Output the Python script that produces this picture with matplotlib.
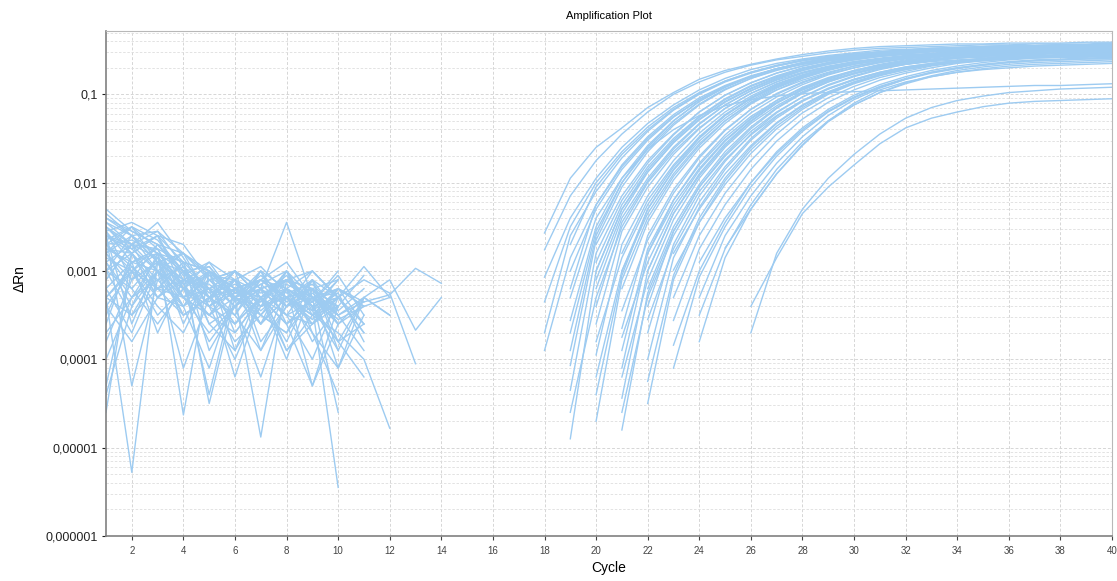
import numpy as np
import matplotlib
matplotlib.use("Agg")
import matplotlib.pyplot as plt
from matplotlib.ticker import LogLocator, NullFormatter

plt.rcParams['font.family'] = ['Liberation Sans', 'DejaVu Sans']

# baseline noise, log10(dRn), one list per well, starting at cycle 1
noise_curves = [
    [-2.6, -2.7, -2.75, -2.9, -3.0, -3.2, -3.1, -3.3, -3.2, -3.5],
    [-2.4, -2.6, -2.55, -2.8, -3.1, -3.0, -3.3, -3.05, -3.4, -3.3, -3.6],
    [-2.7, -2.5, -2.65, -3.0, -2.95, -3.3, -3.2, -3.1, -3.35, -3.0],
    [-2.3, -2.55, -2.7, -2.8, -3.05, -3.1, -2.95, -3.25, -3.15, -3.45, -3.2],
    [-4.6, -2.8, -2.6, -2.9, -3.2, -3.1, -3.4, -3.0, -3.3, -3.6],
    [-3.3, -5.28, -2.9, -3.1, -3.3, -3.0, -3.2, -3.5, -3.1, -3.3],
    [-3.4, -3.0, -2.8, -3.15, -3.5, -3.2, -3.1, -3.3, -3.55, -3.2, -3.4],
    [-2.5, -2.7, -2.45, -2.85, -3.3, -3.5, -3.1, -2.9, -3.3, -3.25],
    [-2.8, -3.1, -2.7, -3.0, -4.5, -3.3, -3.0, -3.2, -3.4, -3.1],
    [-2.55, -2.45, -2.6, -3.2, -3.0, -3.3, -4.88, -3.1, -3.2, -3.5, -3.3],
    [-3.0, -2.8, -3.2, -3.3, -3.1, -3.4, -3.2, -2.45, -3.3, -3.5],
    [-2.75, -2.9, -2.8, -4.63, -3.0, -3.2, -3.3, -3.1, -3.4, -5.45],
    [-2.45, -2.6, -2.9, -2.8, -3.0, -3.35, -3.15, -3.4, -3.3, -3.2, -3.35, -3.27, -2.97, -3.14],
    [-2.9, -3.3, -2.85, -3.1, -3.2, -3.6, -3.3, -3.2, -4.3, -3.6, -3.3, -3.1, -3.67, -3.3],
    [-3.1, -2.7, -3.0, -3.2, -2.9, -3.3, -3.5, -3.2, -3.0, -3.3, -3.1, -3.25, -4.05],
    [-3.3, -3.5, -3.0, -3.2, -3.4, -3.1, -3.6, -3.3, -3.5, -3.7, -4.0, -4.78],
    [-2.6, -2.8, -3.1, -2.95, -3.2, -4.2, -3.3, -3.1, -3.2, -3.4, -3.05],
    [-2.7, -2.65, -2.8, -3.0, -3.25, -3.15, -3.35, -3.0, -3.45, -3.25, -3.8],
    [-4.0, -3.3, -3.1, -2.95, -3.4, -3.2, -3.1, -3.35, -3.2, -4.1, -3.3],
    [-2.5, -2.75, -2.6, -2.7, -3.1, -3.0, -3.2, -3.4, -3.0, -3.3],
    [-2.8, -2.6, -3.0, -3.3, -3.0, -3.2, -3.45, -3.2, -3.35, -3.05, -3.5],
    [-3.2, -2.9, -2.75, -3.2, -3.35, -3.0, -3.3, -3.6, -3.3, -3.4],
    [-2.6, -3.6, -2.9, -3.0, -3.2, -3.3, -3.05, -3.3, -3.5, -3.2],
    [-2.4, -2.55, -2.7, -3.05, -2.9, -3.1, -3.25, -3.15, -3.3, -3.55, -3.4],
    [-2.9, -2.7, -2.55, -2.95, -3.4, -3.25, -3.1, -3.2, -3.4, -3.3, -2.95, -3.3],
    [-3.6, -2.8, -3.3, -3.4, -3.0, -3.2, -3.3, -3.8, -3.2, -3.6],
    [-2.75, -2.8, -2.6, -3.1, -3.15, -3.4, -3.2, -3.1, -3.0, -3.3, -3.7],
    [-2.55, -2.9, -3.0, -2.8, -3.3, -3.1, -3.4, -3.3, -3.6, -3.2],
    [-3.0, -3.2, -2.85, -3.3, -3.2, -3.5, -3.0, -3.4, -3.25, -3.5, -3.35],
    [-2.65, -2.5, -2.9, -3.15, -3.05, -3.3, -3.15, -3.0, -3.5, -3.4],
    [-3.3, -2.95, -3.2, -2.9, -3.6, -3.4, -3.1, -3.3, -3.1, -3.8, -4.2],
    [-2.85, -3.0, -2.7, -3.0, -3.3, -3.2, -3.6, -3.3, -3.2, -3.1],
    [-4.3, -3.0, -3.2, -3.1, -2.95, -3.3, -3.4, -3.2, -3.6, -3.3],
    [-2.35, -2.6, -2.8, -2.9, -3.0, -3.25, -3.35, -3.1, -3.3, -3.5],
    [-2.7, -2.95, -3.3, -3.1, -3.2, -3.0, -3.3, -3.5, -3.35, -3.2, -3.4, -3.3],
    [-3.1, -2.7, -2.85, -3.2, -3.5, -3.3, -3.1, -3.3, -3.45, -3.1],
    [-2.9, -3.4, -2.8, -3.6, -3.0, -3.9, -3.2, -3.5, -4.0, -3.3],
    [-3.5, -2.9, -3.7, -3.1, -4.4, -3.2, -3.6, -3.0, -3.7, -4.1, -3.5],
    [-2.6, -4.3, -3.1, -3.4, -3.0, -3.7, -3.3, -4.0, -3.2, -3.6],
    [-3.8, -3.1, -2.9, -3.5, -3.3, -3.0, -3.8, -3.4, -3.1, -3.9, -3.3, -3.5],
    [-2.7, -3.0, -3.5, -3.2, -3.8, -3.4, -3.0, -3.6, -4.3, -3.4],
    [-3.2, -3.7, -3.0, -4.1, -3.3, -3.5, -3.9, -3.2, -3.4, -3.8, -3.6],
    [-2.5, -2.8, -3.3, -3.0, -3.6, -3.9, -3.4, -3.3, -3.7, -4.4],
    [-3.0, -2.6, -2.9, -3.4, -4.1, -3.2, -3.5, -3.7, -3.1, -3.5, -3.9],
    [-4.4, -3.4, -3.0, -3.3, -3.5, -3.1, -3.9, -3.4, -3.2, -3.6],
    [-2.8, -3.2, -3.6, -3.2, -3.4, -4.0, -3.3, -3.6, -3.3, -4.6],
    [-2.6, -2.75, -3.0, -3.4, -3.2, -3.6, -3.3, -3.9, -3.5, -3.3, -3.7],
    [-3.3, -3.0, -3.4, -3.7, -3.1, -3.3, -3.6, -3.2, -3.8, -3.4],
    [-2.55, -3.1, -2.9, -3.3, -3.7, -3.4, -4.2, -3.3, -3.5, -3.2, -3.6],
    [-3.7, -3.3, -3.0, -3.5, -3.3, -3.8, -3.5, -3.1, -3.4, -3.9],
    [-2.45, -2.7, -3.2, -3.5, -3.3, -3.1, -3.5, -3.7, -3.3, -3.6, -3.4],
    [-3.0, -3.5, -3.2, -2.9, -3.9, -3.4, -3.2, -3.5, -3.6, -3.3],
    [-2.8, -2.5, -2.75, -3.3, -3.5, -3.7, -3.3, -3.6, -3.4, -3.8, -3.3, -3.5],
    [-3.4, -3.8, -3.3, -3.0, -3.4, -3.6, -3.2, -3.9, -3.6, -3.4],
]

# amplification curves: first cycle with a positive dRn, then log10(dRn) up to cycle 40
amp_start = [18, 18, 18, 18, 18, 19,
             19, 19, 19, 19, 19, 19, 19,
             20, 20, 20, 20, 20, 20, 20,
             21, 21, 21, 21, 21, 21, 21,
             22, 22, 22, 22, 22,
             23, 23, 23, 23,
             24, 24, 25, 26, 26,
             19, 19, 20, 20, 20, 20, 21, 21, 21, 21, 22, 22, 22, 22,
             23, 23, 24, 24, 19, 18, 20, 21]
amp_curves = [
    [-2.57, -1.95, -1.6, -1.38, -1.15, -0.98, -0.83, -0.73, -0.66, -0.6, -0.55, -0.51, -0.48, -0.46, -0.45, -0.44, -0.43, -0.43, -0.42, -0.42, -0.42, -0.41, -0.41],
    [-2.76, -2.15, -1.75, -1.45, -1.2, -1.0, -0.86, -0.75, -0.67, -0.61, -0.57, -0.53, -0.5, -0.48, -0.47, -0.46, -0.45, -0.44, -0.44, -0.43, -0.43, -0.43, -0.42],
    [-3.07, -2.4, -1.95, -1.6, -1.33, -1.12, -0.95, -0.82, -0.72, -0.65, -0.6, -0.56, -0.53, -0.5, -0.49, -0.48, -0.47, -0.46, -0.45, -0.45, -0.44, -0.44, -0.44],
    [-3.7, -2.6, -2.1, -1.72, -1.42, -1.18, -1.0, -0.86, -0.76, -0.68, -0.62, -0.58, -0.55, -0.53, -0.51, -0.5, -0.49, -0.48, -0.48, -0.47, -0.47, -0.46, -0.46],
    [-3.9, -2.85, -2.25, -1.82, -1.5, -1.25, -1.06, -0.91, -0.8, -0.71, -0.65, -0.6, -0.57, -0.54, -0.52, -0.51, -0.5, -0.49, -0.48, -0.48, -0.47, -0.47, -0.47],
    [-3.3, -2.4, -1.95, -1.62, -1.4, -1.24, -1.13, -1.06, -1.02, -0.99, -0.98, -0.97, -0.96, -0.95, -0.94, -0.93, -0.92, -0.91, -0.9, -0.9, -0.89, -0.88],
    [-4.9, -3.0, -2.3, -1.85, -1.52, -1.26, -1.06, -0.91, -0.8, -0.71, -0.64, -0.59, -0.55, -0.52, -0.5, -0.49, -0.48, -0.47, -0.46, -0.46, -0.45, -0.45],
    [-4.35, -2.8, -2.2, -1.78, -1.46, -1.2, -1.01, -0.87, -0.76, -0.68, -0.62, -0.57, -0.54, -0.51, -0.49, -0.48, -0.47, -0.46, -0.45, -0.45, -0.44, -0.44],
    [-4.07, -2.65, -2.05, -1.65, -1.35, -1.12, -0.95, -0.82, -0.72, -0.65, -0.6, -0.56, -0.53, -0.51, -0.49, -0.48, -0.47, -0.46, -0.46, -0.45, -0.45, -0.45],
    [-3.56, -2.5, -1.95, -1.58, -1.3, -1.08, -0.92, -0.8, -0.71, -0.64, -0.59, -0.55, -0.52, -0.5, -0.48, -0.47, -0.46, -0.45, -0.45, -0.44, -0.44, -0.43],
    [-3.2, -2.25, -1.8, -1.48, -1.23, -1.04, -0.9, -0.79, -0.71, -0.65, -0.6, -0.57, -0.54, -0.52, -0.51, -0.5, -0.49, -0.49, -0.48, -0.48, -0.48, -0.47],
    [-2.7, -2.05, -1.68, -1.4, -1.17, -0.99, -0.85, -0.75, -0.67, -0.61, -0.57, -0.54, -0.52, -0.5, -0.49, -0.48, -0.47, -0.47, -0.46, -0.46, -0.46, -0.45],
    [-4.6, -3.3, -2.5, -2.0, -1.65, -1.38, -1.16, -0.99, -0.86, -0.76, -0.69, -0.63, -0.59, -0.56, -0.54, -0.52, -0.51, -0.5, -0.49, -0.49, -0.48, -0.48],
    [-4.7, -3.1, -2.4, -1.93, -1.58, -1.3, -1.09, -0.93, -0.81, -0.72, -0.65, -0.6, -0.57, -0.54, -0.52, -0.51, -0.5, -0.49, -0.49, -0.48, -0.48],
    [-3.95, -2.7, -2.15, -1.75, -1.44, -1.2, -1.02, -0.88, -0.78, -0.7, -0.64, -0.6, -0.57, -0.55, -0.53, -0.52, -0.51, -0.5, -0.5, -0.49, -0.49],
    [-3.4, -2.45, -1.98, -1.62, -1.34, -1.12, -0.96, -0.83, -0.73, -0.66, -0.61, -0.57, -0.54, -0.52, -0.5, -0.49, -0.48, -0.47, -0.47, -0.46, -0.46],
    [-2.9, -2.25, -1.82, -1.5, -1.25, -1.05, -0.9, -0.79, -0.7, -0.64, -0.59, -0.55, -0.52, -0.5, -0.49, -0.48, -0.47, -0.46, -0.46, -0.45, -0.45],
    [-4.2, -3.0, -2.35, -1.9, -1.56, -1.3, -1.1, -0.95, -0.84, -0.75, -0.68, -0.63, -0.59, -0.56, -0.54, -0.53, -0.52, -0.51, -0.5, -0.5, -0.49],
    [-3.6, -2.55, -2.05, -1.68, -1.39, -1.16, -0.99, -0.86, -0.76, -0.69, -0.64, -0.6, -0.58, -0.56, -0.55, -0.54, -0.53, -0.53, -0.52, -0.52, -0.52],
    [-3.1, -2.35, -1.88, -1.54, -1.28, -1.08, -0.93, -0.81, -0.72, -0.65, -0.6, -0.56, -0.53, -0.51, -0.5, -0.49, -0.48, -0.47, -0.47, -0.46, -0.46],
    [-4.44, -3.0, -2.35, -1.9, -1.56, -1.3, -1.1, -0.95, -0.83, -0.74, -0.67, -0.62, -0.58, -0.55, -0.53, -0.51, -0.5, -0.49, -0.49, -0.48],
    [-4.1, -2.8, -2.2, -1.78, -1.46, -1.21, -1.03, -0.89, -0.78, -0.7, -0.64, -0.59, -0.56, -0.54, -0.52, -0.51, -0.5, -0.49, -0.49, -0.48],
    [-3.65, -2.6, -2.08, -1.7, -1.4, -1.17, -0.99, -0.86, -0.76, -0.68, -0.63, -0.59, -0.56, -0.54, -0.53, -0.52, -0.51, -0.51, -0.5, -0.5],
    [-3.2, -2.45, -1.97, -1.61, -1.33, -1.11, -0.95, -0.82, -0.73, -0.66, -0.61, -0.57, -0.54, -0.52, -0.5, -0.49, -0.48, -0.47, -0.47, -0.46],
    [-4.8, -3.25, -2.55, -2.05, -1.7, -1.42, -1.2, -1.03, -0.9, -0.8, -0.72, -0.66, -0.62, -0.59, -0.57, -0.55, -0.54, -0.53, -0.52, -0.52],
    [-3.0, -2.3, -1.86, -1.53, -1.27, -1.07, -0.92, -0.8, -0.71, -0.65, -0.6, -0.57, -0.54, -0.52, -0.51, -0.5, -0.49, -0.48, -0.48, -0.47],
    [-3.9, -2.75, -2.2, -1.8, -1.49, -1.25, -1.07, -0.93, -0.82, -0.74, -0.68, -0.64, -0.61, -0.59, -0.58, -0.57, -0.56, -0.56, -0.55, -0.55],
    [-3.4, -2.55, -2.05, -1.68, -1.39, -1.16, -0.99, -0.86, -0.76, -0.69, -0.63, -0.59, -0.56, -0.54, -0.52, -0.51, -0.5, -0.5, -0.49],
    [-4.0, -2.85, -2.28, -1.85, -1.52, -1.27, -1.08, -0.94, -0.83, -0.75, -0.69, -0.65, -0.62, -0.6, -0.58, -0.57, -0.56, -0.56, -0.55],
    [-3.0, -2.35, -1.92, -1.58, -1.31, -1.1, -0.94, -0.82, -0.73, -0.66, -0.61, -0.58, -0.55, -0.53, -0.52, -0.51, -0.5, -0.49, -0.49],
    [-4.5, -3.1, -2.45, -1.98, -1.63, -1.36, -1.15, -0.99, -0.87, -0.78, -0.71, -0.66, -0.62, -0.59, -0.57, -0.56, -0.55, -0.54, -0.54],
    [-3.7, -2.7, -2.15, -1.76, -1.45, -1.21, -1.03, -0.89, -0.79, -0.71, -0.66, -0.62, -0.59, -0.57, -0.56, -0.55, -0.54, -0.54, -0.53],
    [-3.84, -3.0, -2.45, -2.0, -1.65, -1.38, -1.17, -1.01, -0.89, -0.8, -0.73, -0.68, -0.64, -0.61, -0.59, -0.58, -0.57, -0.56],
    [-3.56, -2.75, -2.25, -1.85, -1.53, -1.28, -1.09, -0.95, -0.84, -0.76, -0.7, -0.65, -0.62, -0.6, -0.58, -0.57, -0.56, -0.55],
    [-2.99, -2.45, -2.02, -1.67, -1.39, -1.17, -1.0, -0.88, -0.79, -0.72, -0.67, -0.63, -0.6, -0.58, -0.57, -0.56, -0.55, -0.55],
    [-4.1, -3.07, -2.5, -2.05, -1.7, -1.42, -1.2, -1.04, -0.92, -0.83, -0.76, -0.71, -0.67, -0.64, -0.62, -0.61, -0.6, -0.59],
    [-3.3, -2.6, -2.15, -1.78, -1.48, -1.24, -1.06, -0.93, -0.83, -0.75, -0.7, -0.66, -0.63, -0.61, -0.6, -0.59, -0.58],
    [-3.8, -2.85, -2.3, -1.9, -1.57, -1.31, -1.12, -0.98, -0.87, -0.79, -0.73, -0.69, -0.66, -0.64, -0.63, -0.62, -0.61],
    [-2.74, -2.3, -1.9, -1.58, -1.3, -1.1, -0.95, -0.86, -0.8, -0.75, -0.72, -0.7, -0.68, -0.67, -0.66, -0.65],
    [-3.4, -2.85, -2.35, -2.05, -1.8, -1.56, -1.38, -1.27, -1.2, -1.14, -1.1, -1.08, -1.07, -1.06, -1.05],
    [-3.7, -2.8, -2.3, -1.95, -1.68, -1.45, -1.27, -1.15, -1.07, -1.02, -0.98, -0.96, -0.94, -0.93, -0.92],
    [-3.9, -2.6, -2.0, -1.6, -1.3, -1.08, -0.92, -0.8, -0.71, -0.64, -0.59, -0.55, -0.52, -0.5, -0.48, -0.47, -0.46, -0.45, -0.45, -0.44, -0.44, -0.43],
    [-3.0, -2.3, -1.85, -1.52, -1.26, -1.06, -0.91, -0.8, -0.72, -0.66, -0.62, -0.59, -0.57, -0.55, -0.54, -0.53, -0.53, -0.52, -0.52, -0.51, -0.51, -0.51],
    [-4.4, -3.05, -2.3, -1.85, -1.5, -1.24, -1.04, -0.89, -0.78, -0.7, -0.64, -0.6, -0.57, -0.55, -0.53, -0.52, -0.51, -0.5, -0.5, -0.49, -0.49],
    [-3.2, -2.4, -1.95, -1.6, -1.33, -1.12, -0.96, -0.84, -0.75, -0.68, -0.63, -0.6, -0.58, -0.56, -0.55, -0.54, -0.54, -0.53, -0.53, -0.53, -0.52],
    [-2.7, -2.15, -1.75, -1.45, -1.2, -1.01, -0.87, -0.76, -0.68, -0.62, -0.58, -0.54, -0.52, -0.5, -0.48, -0.47, -0.46, -0.45, -0.45, -0.44, -0.44],
    [-3.8, -2.85, -2.25, -1.82, -1.49, -1.24, -1.05, -0.91, -0.8, -0.72, -0.66, -0.62, -0.59, -0.57, -0.56, -0.55, -0.54, -0.53, -0.53, -0.52, -0.52],
    [-3.45, -2.65, -2.12, -1.72, -1.41, -1.17, -1.0, -0.87, -0.77, -0.7, -0.64, -0.6, -0.57, -0.55, -0.53, -0.52, -0.51, -0.5, -0.5, -0.49],
    [-4.2, -3.1, -2.42, -1.95, -1.6, -1.33, -1.13, -0.97, -0.85, -0.76, -0.69, -0.64, -0.61, -0.58, -0.56, -0.55, -0.54, -0.53, -0.53, -0.52],
    [-2.8, -2.2, -1.8, -1.48, -1.23, -1.04, -0.9, -0.79, -0.71, -0.65, -0.61, -0.58, -0.56, -0.54, -0.53, -0.52, -0.51, -0.51, -0.5, -0.5],
    [-3.75, -2.9, -2.3, -1.86, -1.53, -1.28, -1.09, -0.95, -0.84, -0.76, -0.7, -0.66, -0.63, -0.61, -0.6, -0.59, -0.58, -0.58, -0.57, -0.57],
    [-3.2, -2.5, -2.02, -1.65, -1.37, -1.15, -0.98, -0.86, -0.77, -0.7, -0.65, -0.61, -0.58, -0.56, -0.55, -0.54, -0.53, -0.52, -0.52],
    [-4.25, -3.05, -2.4, -1.95, -1.6, -1.33, -1.13, -0.98, -0.86, -0.77, -0.71, -0.66, -0.63, -0.61, -0.59, -0.58, -0.57, -0.57, -0.56],
    [-2.8, -2.25, -1.84, -1.52, -1.27, -1.07, -0.92, -0.81, -0.73, -0.67, -0.63, -0.6, -0.57, -0.55, -0.54, -0.53, -0.52, -0.52, -0.51],
    [-3.55, -2.75, -2.22, -1.82, -1.5, -1.25, -1.07, -0.93, -0.83, -0.75, -0.69, -0.65, -0.62, -0.6, -0.59, -0.58, -0.57, -0.57, -0.56],
    [-3.3, -2.6, -2.12, -1.75, -1.45, -1.21, -1.04, -0.91, -0.81, -0.74, -0.68, -0.64, -0.61, -0.59, -0.58, -0.57, -0.56, -0.56],
    [-2.8, -2.3, -1.9, -1.58, -1.32, -1.12, -0.97, -0.86, -0.78, -0.72, -0.67, -0.64, -0.62, -0.6, -0.59, -0.58, -0.58, -0.57],
    [-2.9, -2.4, -2.0, -1.67, -1.4, -1.19, -1.03, -0.91, -0.82, -0.75, -0.7, -0.67, -0.64, -0.62, -0.61, -0.6, -0.6],
    [-3.5, -2.75, -2.25, -1.85, -1.54, -1.3, -1.12, -0.98, -0.88, -0.8, -0.75, -0.71, -0.68, -0.66, -0.65, -0.64, -0.63],
    [-3.7, -2.55, -2.0, -1.62, -1.33, -1.11, -0.94, -0.82, -0.73, -0.66, -0.61, -0.57, -0.54, -0.52, -0.5, -0.49, -0.48, -0.47, -0.47, -0.46, -0.46, -0.46],
    [-3.35, -2.5, -2.0, -1.65, -1.37, -1.15, -0.98, -0.85, -0.75, -0.68, -0.62, -0.58, -0.55, -0.52, -0.5, -0.49, -0.48, -0.47, -0.46, -0.46, -0.45, -0.45, -0.45],
    [-3.0, -2.3, -1.88, -1.55, -1.29, -1.09, -0.94, -0.82, -0.73, -0.66, -0.61, -0.57, -0.54, -0.52, -0.51, -0.5, -0.49, -0.48, -0.48, -0.47, -0.47],
    [-4.6, -3.3, -2.6, -2.1, -1.74, -1.46, -1.24, -1.07, -0.94, -0.84, -0.76, -0.7, -0.66, -0.63, -0.61, -0.59, -0.58, -0.57, -0.57, -0.56],
]

ytick_vals = [1e-6, 1e-5, 1e-4, 1e-3, 1e-2, 1e-1]
ytick_labels = ['0,000001', '0,00001', '0,0001', '0,001', '0,01', '0,1']

line_color = '#9dcbf1'

fig = plt.figure(figsize=(11.17, 5.81), dpi=100)
ax = fig.add_axes([0.0949, 0.0775, 0.9006, 0.869])

for vals in noise_curves:
    cyc = 1 + np.arange(len(vals))
    ax.plot(cyc, 10 ** np.array(vals), color=line_color, lw=1.0)

for s, vals in zip(amp_start, amp_curves):
    cyc = s + np.arange(len(vals))
    ax.plot(cyc, 10 ** np.array(vals), color=line_color, lw=1.0)

ax.set_yscale('log')
ax.set_xlim(1, 40)
ax.set_ylim(1e-6, 0.52)

ax.set_xticks(range(2, 41, 2))
ax.set_yticks(ytick_vals)
ax.set_yticklabels(ytick_labels)
ax.yaxis.set_minor_locator(LogLocator(base=10, subs=np.arange(2, 10)))
ax.yaxis.set_minor_formatter(NullFormatter())

ax.tick_params(axis='x', labelsize=7, colors='#444444', length=3, width=0.8, pad=4)
ax.tick_params(axis='y', labelsize=9, colors='#222222', length=3, width=0.8, pad=3)
ax.tick_params(axis='y', which='minor', length=0)

ax.grid(True, which='major', color='#d6d6d6', linestyle=(0, (3, 2)), lw=0.7)
ax.grid(True, which='minor', axis='y', color='#dedede', linestyle=(0, (3, 2)), lw=0.6)
ax.set_axisbelow(True)

for side in ['left', 'bottom']:
    ax.spines[side].set_color('#808080')
    ax.spines[side].set_linewidth(1.2)
for side in ['top', 'right']:
    ax.spines[side].set_color('#b8b8b8')
    ax.spines[side].set_linewidth(0.8)

ax.set_title('Amplification Plot', fontsize=8, pad=9)
ax.set_xlabel('Cycle', fontsize=10, labelpad=4)
ax.set_ylabel('\u0394Rn', fontsize=10)
ax.yaxis.set_label_coords(-0.079, 0.51)

fig.savefig('out.png', dpi=100)
